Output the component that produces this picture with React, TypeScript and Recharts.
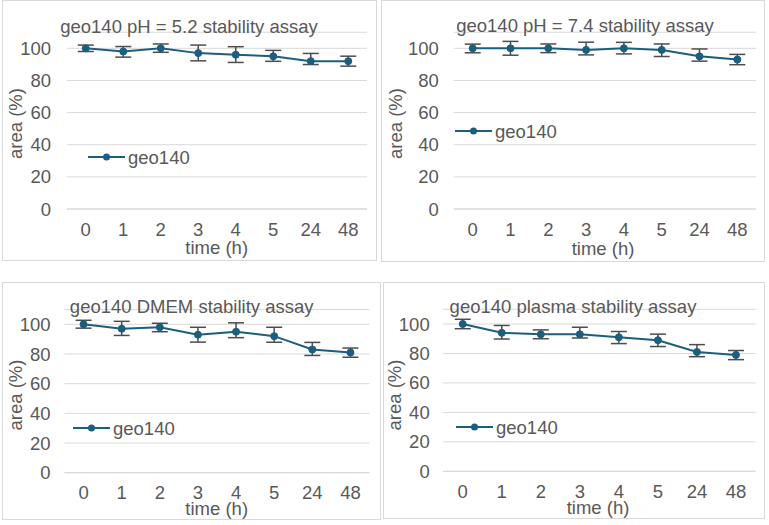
import { CartesianGrid, ErrorBar, Legend, Line, LineChart, XAxis, YAxis } from "recharts";

const FONT = "'Liberation Sans', Arial, sans-serif";
const TEXT = "#595959";
const GRID = "#d9d9d9";
const LINE = "#1b5f80";
const WHISKER = "#4d4d4d";
const FS = 18.5;

const HOURS = ["0", "1", "2", "3", "4", "5", "24", "48"];
const AREA_TICKS = [0, 20, 40, 60, 80, 100];
// headroom above the last tick so whiskers above 100 % don't stretch the scale
const AREA_MAX = 110;

// mean peak area (% of t=0) and [minus, plus] error per time point
const PH52 = [100, 98, 100, 97, 96, 95, 92, 92];
const PH52_ERR = [[2, 2], [3.5, 3.1], [2.5, 2.7], [4.8, 5], [4.8, 5], [3.1, 3.7], [2.1, 4.8], [3.1, 3.1]];

const PH74 = [100, 100, 100, 99, 100, 99, 95, 93];
const PH74_ERR = [[2.8, 2.6], [4.3, 4.3], [2.7, 2.7], [3.1, 4.8], [3.5, 3.7], [4.1, 3.7], [3, 4.6], [3.2, 3.2]];

const DMEM = [100, 97, 98, 93, 95, 92, 83, 81];
const DMEM_ERR = [[2.6, 2.7], [4.5, 5], [3, 2.7], [5, 5], [4, 6], [4.1, 6], [4, 4.8], [3.2, 3]];

const PLASMA = [100, 94, 93, 93, 91, 89, 81, 79];
const PLASMA_ERR = [[3.2, 3.2], [4.2, 5], [3, 3], [2.5, 4.8], [4.3, 3.9], [4.3, 4.1], [3.2, 5], [3.2, 3]];

const SERIES = "geo140";

type Box = { x: number; y: number; w: number; h: number };
// l/r: plot edges, t: y of the 100 line, b: y of the 0 line
type Plot = { l: number; r: number; t: number; b: number };

interface PanelProps {
  title: string;
  values: number[];
  errors: number[][];
  box: Box;
  plot: Plot;
  titleAt: [number, number];
  xTitleAt: [number, number];
  yTitleAt: [number, number];
  legendAt: [number, number];
  yTickGap: number;
}

const Y_AXIS_W = 45;
const X_AXIS_H = 30;

function LegendSwatch() {
  return (
    <svg width={120} height={24} style={{ display: "block", overflow: "visible" }}>
      <line x1={0} y1={12} x2={37} y2={12} stroke={LINE} strokeWidth={2} />
      <circle cx={18.5} cy={12} r={3.5} fill={LINE} />
      <text x={40} y={18.5} fill={TEXT} fontSize={FS} fontFamily={FONT}>
        {SERIES}
      </text>
    </svg>
  );
}

function Panel({ title, values, errors, box, plot, titleAt, xTitleAt, yTitleAt, legendAt, yTickGap }: PanelProps) {
  const data = HOURS.map((h, i) => ({ h, v: values[i], err: errors[i] }));
  const headroom = ((plot.b - plot.t) * (AREA_MAX - 100)) / 100;
  const margin = {
    top: plot.t - box.y - headroom,
    right: box.x + box.w - plot.r,
    bottom: box.y + box.h - plot.b - X_AXIS_H,
    left: plot.l - box.x - Y_AXIS_W,
  };
  const tick = { fill: TEXT, fontSize: FS, fontFamily: FONT };
  return (
    <div
      style={{
        position: "absolute",
        left: box.x,
        top: box.y,
        width: box.w,
        height: box.h,
        boxShadow: `inset 0 0 0 1px ${GRID}`,
      }}
    >
      <LineChart width={box.w} height={box.h} data={data} margin={margin}>
        <CartesianGrid stroke={GRID} vertical={false} />
        {/* band scale puts each time point in the middle of its slot */}
        <XAxis
          dataKey="h"
          scale="band"
          tick={tick}
          tickLine={false}
          tickSize={0}
          tickMargin={13.4}
          height={X_AXIS_H}
          axisLine={{ stroke: GRID }}
          interval={0}
        />
        <YAxis
          domain={[0, AREA_MAX]}
          ticks={AREA_TICKS}
          tick={tick}
          tickLine={false}
          tickSize={0}
          tickMargin={yTickGap}
          axisLine={false}
          width={Y_AXIS_W}
        />
        {/* centred + middle keeps the legend from reserving space; wrapperStyle moves it inside the plot */}
        <Legend
          layout="horizontal"
          verticalAlign="middle"
          align="center"
          content={() => <LegendSwatch />}
          wrapperStyle={{ left: legendAt[0] - box.x, top: legendAt[1] - box.y - 12, width: 120, height: 24 }}
        />
        <Line
          dataKey="v"
          name={SERIES}
          stroke={LINE}
          strokeWidth={2}
          dot={{ r: 3.5, fill: LINE, stroke: LINE, strokeWidth: 1 }}
          isAnimationActive={false}
        >
          <ErrorBar dataKey="err" direction="y" width={8} stroke={WHISKER} strokeWidth={1.5} isAnimationActive={false} />
        </Line>
      </LineChart>
      <svg
        width={box.w}
        height={box.h}
        style={{ position: "absolute", left: 0, top: 0, pointerEvents: "none" }}
        fontFamily={FONT}
        fontSize={FS}
        fill={TEXT}
      >
        <text x={titleAt[0] - box.x} y={titleAt[1] - box.y} textAnchor="middle">
          {title}
        </text>
        <text x={xTitleAt[0] - box.x} y={xTitleAt[1] - box.y} textAnchor="middle">
          time (h)
        </text>
        <text
          transform={`translate(${yTitleAt[0] - box.x},${yTitleAt[1] - box.y}) rotate(-90)`}
          textAnchor="middle"
        >
          area (%)
        </text>
      </svg>
    </div>
  );
}

export default function App() {
  return (
    <div style={{ position: "absolute", left: 0, top: 0, width: 769, height: 525, background: "#fff" }}>
      <Panel
        title="geo140 pH = 5.2 stability assay"
        values={PH52}
        errors={PH52_ERR}
        box={{ x: 2, y: 0, w: 375, h: 261 }}
        plot={{ l: 67, r: 367, t: 48.3, b: 209 }}
        titleAt={[189, 32.5]}
        xTitleAt={[216.7, 254]}
        yTitleAt={[22, 123.5]}
        legendAt={[88, 157]}
        yTickGap={16}
      />
      <Panel
        title="geo140 pH = 7.4 stability assay"
        values={PH74}
        errors={PH74_ERR}
        box={{ x: 381, y: 0, w: 384, h: 262 }}
        plot={{ l: 453.8, r: 756.2, t: 48.3, b: 209 }}
        titleAt={[585, 31.5]}
        xTitleAt={[603, 255]}
        yTitleAt={[402, 123.5]}
        legendAt={[455, 130.7]}
        yTickGap={15}
      />
      <Panel
        title="geo140 DMEM stability assay"
        values={DMEM}
        errors={DMEM_ERR}
        box={{ x: 2, y: 282, w: 379, h: 238 }}
        plot={{ l: 64.5, r: 369.5, t: 324.3, b: 472.7 }}
        titleAt={[191.7, 312.7]}
        xTitleAt={[216.7, 515]}
        yTitleAt={[22, 395]}
        legendAt={[73.3, 427.7]}
        yTickGap={14}
      />
      <Panel
        title="geo140 plasma stability assay"
        values={PLASMA}
        errors={PLASMA_ERR}
        box={{ x: 383, y: 282, w: 382, h: 237 }}
        plot={{ l: 443.2, r: 755.5, t: 324, b: 471.3 }}
        titleAt={[573, 312.5]}
        xTitleAt={[598, 514]}
        yTitleAt={[401, 395]}
        legendAt={[456, 427]}
        yTickGap={13.5}
      />
    </div>
  );
}
